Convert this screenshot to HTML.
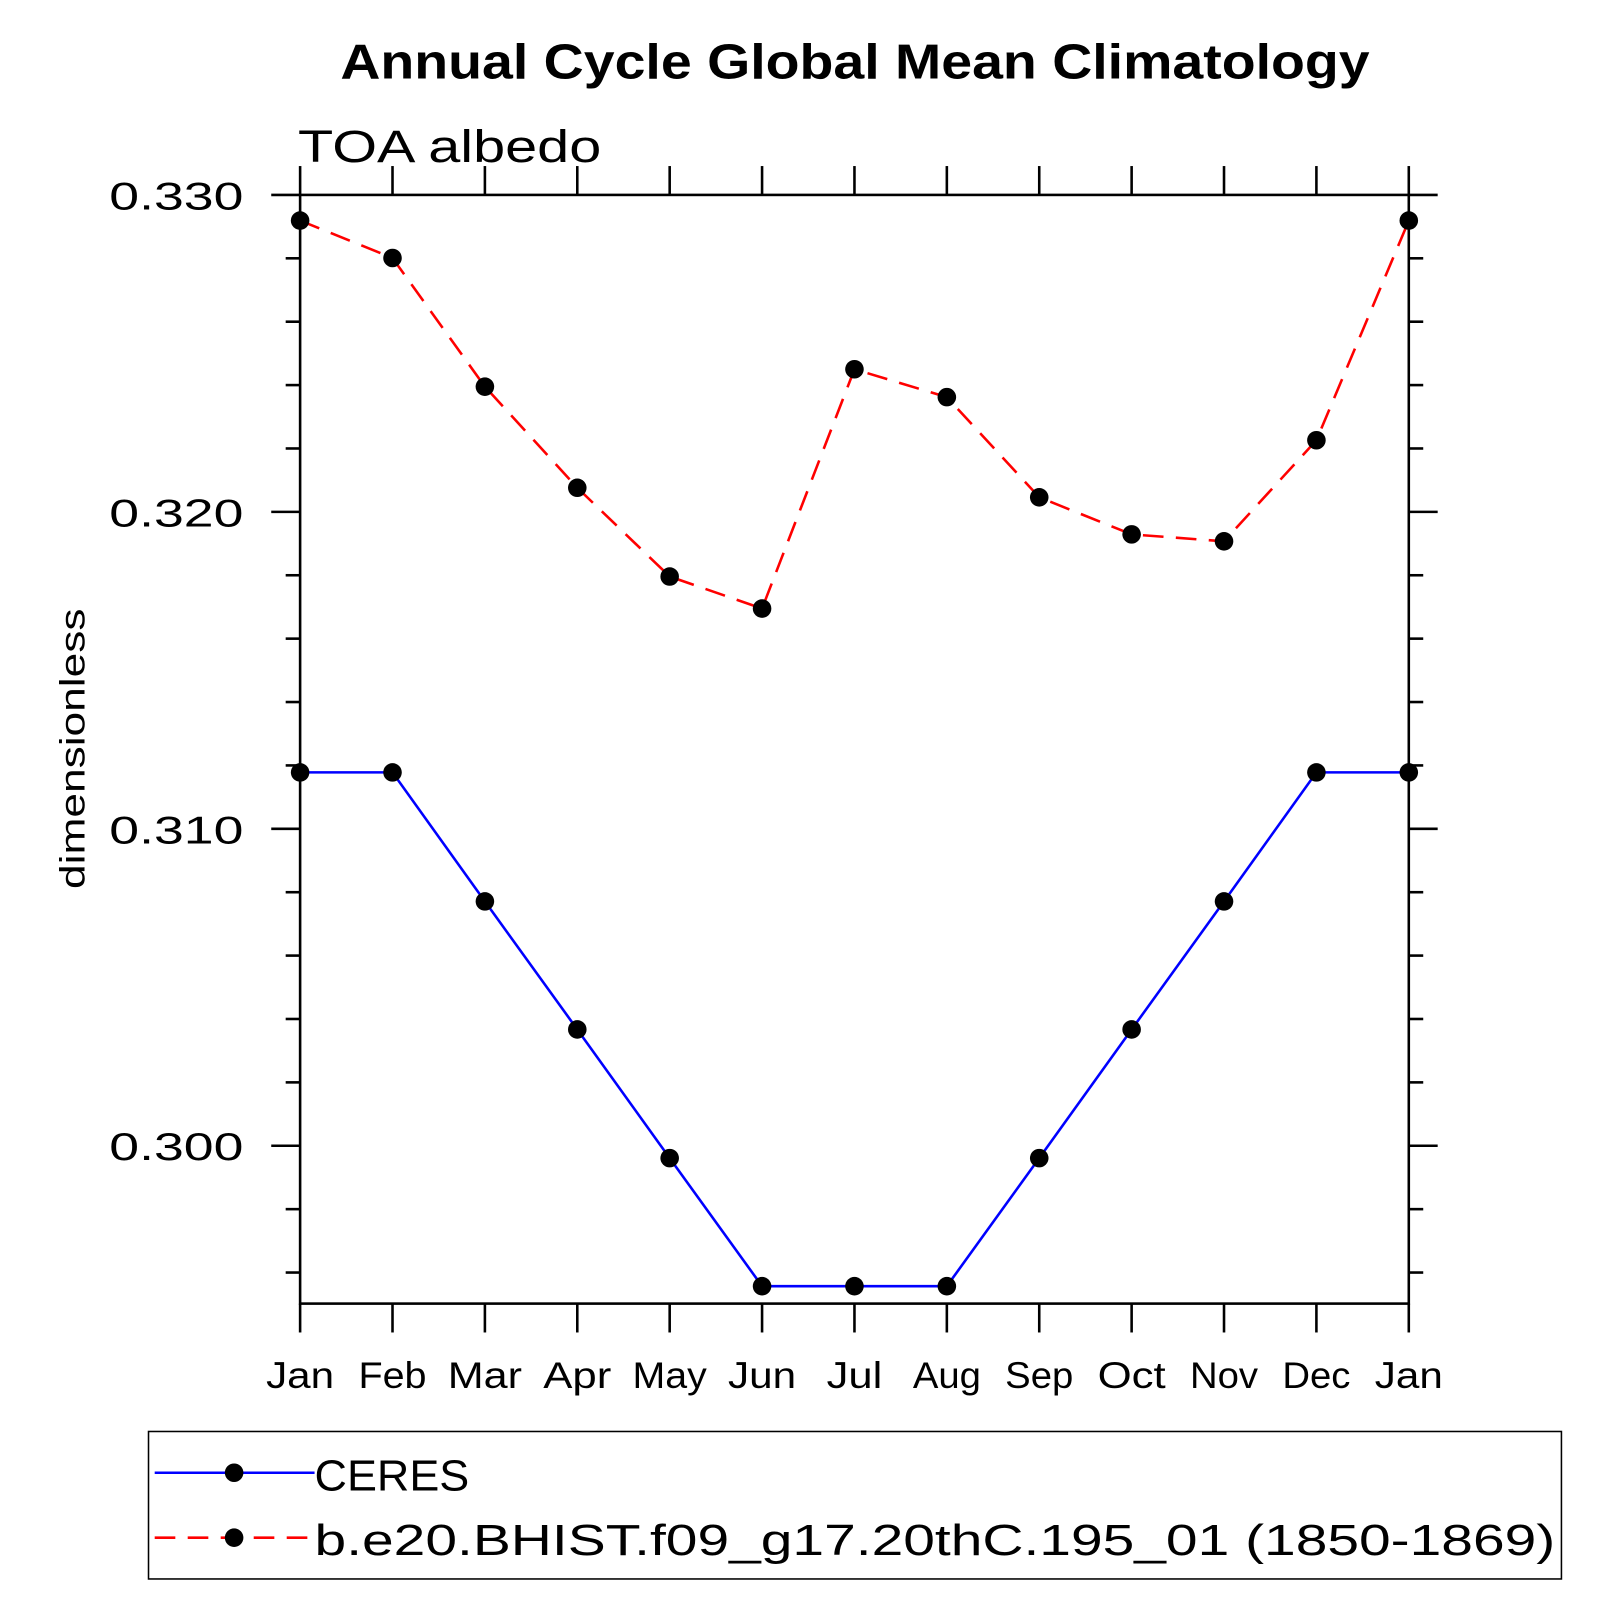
<!DOCTYPE html>
<html><head><meta charset="utf-8"><style>
html,body{margin:0;padding:0;background:#fff;}
svg{display:block;}
text{font-family:"Liberation Sans",sans-serif;}
</style></head><body>
<svg id="chart" width="1613" height="1613" viewBox="0 0 1564 1564" xmlns="http://www.w3.org/2000/svg">
<rect width="1564" height="1564" fill="#fff"/>
<text x="330" y="76" font-size="48" font-weight="bold" textLength="998" lengthAdjust="spacingAndGlyphs">Annual Cycle Global Mean Climatology</text>
<text x="289" y="157" font-size="44" textLength="294" lengthAdjust="spacingAndGlyphs">TOA  albedo</text>
<text transform="translate(82,726) rotate(-90)" font-size="34" text-anchor="middle" textLength="272" lengthAdjust="spacingAndGlyphs">dimensionless</text>
<g id="axes"></g>
<g id="series"></g>
<g>
<rect x="144" y="1388" width="1370" height="143" fill="none" stroke="#000" stroke-width="1.5"/>
<line x1="150" y1="1428" x2="305" y2="1428" stroke="#0000ff" stroke-width="2.5"/>
<circle cx="227" cy="1428" r="9" fill="#000"/>
<text x="305" y="1445" font-size="42" textLength="150" lengthAdjust="spacingAndGlyphs">CERES</text>
<line x1="150" y1="1491" x2="305" y2="1491" stroke="#ff0000" stroke-width="2.5" stroke-dasharray="20,12"/>
<circle cx="227" cy="1491" r="9" fill="#000"/>
<text x="305" y="1508" font-size="42" textLength="1203" lengthAdjust="spacingAndGlyphs">b.e20.BHIST.f09_g17.20thC.195_01 (1850-1869)</text>
</g>
</svg>
<script>
const months = ["Jan","Feb","Mar","Apr","May","Jun","Jul","Aug","Sep","Oct","Nov","Dec","Jan"];
const ceres = [0.31178,0.31178,0.30771,0.30367,0.29961,0.29557,0.29557,0.29557,0.29961,0.30367,0.30771,0.31178,0.31178];
const model = [0.32919,0.32801,0.32395,0.32076,0.31796,0.31695,0.32450,0.32362,0.32046,0.31929,0.31907,0.32226,0.32919];
const yTicks = [0.300,0.310,0.320,0.330];
const yTickLabels = ["0.300","0.310","0.320","0.330"];
const yMin = 0.29502, yMax = 0.330;
const L=291,R=1366,T=189,B=1264;
const NS="http://www.w3.org/2000/svg";
const xs = i => L + i*(R-L)/12;
const ys = v => B - (v-yMin)/(yMax-yMin)*(B-T);
function mk(tag, attrs, parent){const e=document.createElementNS(NS,tag);for(const k in attrs)e.setAttribute(k,attrs[k]);parent.appendChild(e);return e;}
const ax=document.getElementById('axes');
const fr=mk('rect',{x:L,y:T,width:R-L,height:B-T,fill:'none',stroke:'#000','stroke-width':2.5},ax);


months.forEach((m,i)=>{
  const x=xs(i);
  mk('line',{x1:x,y1:T,x2:x,y2:T-28,stroke:'#000','stroke-width':2.5},ax);
  mk('line',{x1:x,y1:B,x2:x,y2:B+28,stroke:'#000','stroke-width':2.5},ax);
  const w = (m==="Jul")?54:(m==="May"||m==="Mar"?72:66);
  const t=mk('text',{x:x,y:1346,'font-size':36,'text-anchor':'middle',textLength:w,lengthAdjust:'spacingAndGlyphs'},ax);
  t.textContent=m;
  
  
});
for(let v=0.296; v<0.3301; v+=0.002){
  const y=ys(v);
  const major = yTicks.some(t=>Math.abs(t-v)<1e-6);
  const len = major?28:14;
  mk('line',{x1:L,y1:y,x2:L-len,y2:y,stroke:'#000','stroke-width':2.5},ax);
  mk('line',{x1:R,y1:y,x2:R+len,y2:y,stroke:'#000','stroke-width':2.5},ax);
}
yTicks.forEach((v,i)=>{
  const t=mk('text',{x:106,y:ys(v)+14,'font-size':38,textLength:130,lengthAdjust:'spacingAndGlyphs'},ax);
  t.textContent=yTickLabels[i];
  
  
});
const sg=document.getElementById('series');
function series(vals,color,dash,name){
  const p=mk('polyline',{points:vals.map((v,i)=>xs(i)+','+ys(v)).join(' '),fill:'none',stroke:color,'stroke-width':2.5,'stroke-dasharray':dash},sg);
  
  
  vals.forEach((v,i)=>{
    const c=mk('circle',{cx:xs(i),cy:ys(v),r:9,fill:'#000'},sg);
    
    
  });
}
series(model,'#ff0000','20,12','model');
series(ceres,'#0000ff','none','ceres');
</script>
</body></html>
